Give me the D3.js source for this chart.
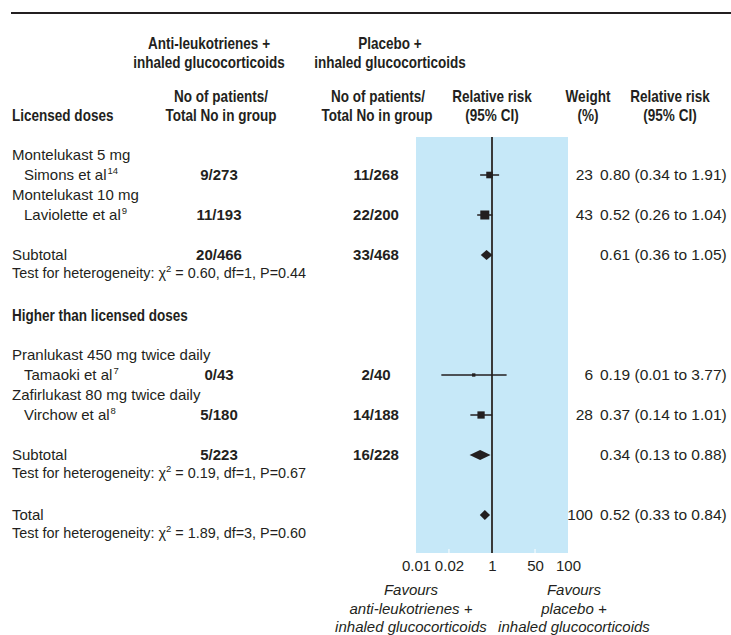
<!DOCTYPE html>
<html><head><meta charset="utf-8">
<script src="https://cdn.jsdelivr.net/npm/d3@7"></script>
<style>
body{margin:0;background:#fff;}
svg text{font-family:"Liberation Sans",Arial,sans-serif;fill:#231f20;font-size:15px;}
svg text.hdr{font-weight:bold;font-size:16.5px;}
svg text.num{font-weight:bold;font-size:15px;}
svg text.fav{font-style:italic;font-size:15px;}
svg text.het{font-size:14.4px;}
svg text.rr{font-size:15.5px;}
</style></head><body>
<svg id="c" width="731" height="635"></svg>
<script>
// ---- data ----
const drugNames = ["Montelukast 5 mg","Montelukast 10 mg","Pranlukast 450 mg twice daily","Zafirlukast 80 mg twice daily"];
const studyNames = ["Simons et al","Laviolette et al","Tamaoki et al","Virchow et al"];
const studyRefs = ["14","9","7","8"];
const treatCounts = ["9/273","11/193","0/43","5/180"];
const placeboCounts = ["11/268","22/200","2/40","14/188"];
const studyRR = [0.80,0.52,0.19,0.37];
const studyLow = [0.34,0.26,0.01,0.14];
const studyHigh = [1.91,1.04,3.77,1.01];
const studyWeight = [23,43,6,28];
const studyLine = [1,3,11,13];      // table line index of each study
const drugLine = [0,2,10,12];

const pooledNames = ["Subtotal","Subtotal","Total"];
const pooledTreat = ["20/466","5/223",""];
const pooledPlacebo = ["33/468","16/228",""];
const pooledRR = [0.61,0.34,0.52];
const pooledLow = [0.36,0.13,0.33];
const pooledHigh = [1.05,0.88,0.84];
const pooledWeight = ["","","100"];
const pooledLine = [5,15,18];
const hetChi = ["0.60","0.19","1.89"];
const hetDf = ["1","1","3"];
const hetP = ["0.44","0.67","0.60"];

const groupNames = ["Licensed doses","Higher than licensed doses"];
const groupLine = [-2,8];

const axisTickValues = [0.001,0.02,1,50,1000];
const axisTickLabels = ["0.01","0.02","1","50","100"];
const innerTicks = [0.02,50];

// ---- layout ----
const svg = d3.select("#c");
const x = d3.scaleLog().domain([0.001,1000]).range([416,568]);
const y = d3.scaleLinear().domain([0,19]).range([155,535]);
const sz = d3.scaleSqrt().domain([0,43]).range([0,9]);
const fmt = d3.format(".2f");
const panelTop = 137, panelBot = 553;
const colTreat = 219, colPlac = 376, colW = 593, colRR = 600;
const cond = 0.82; // condensed bold headers

svg.append("line").attr("x1",11).attr("x2",731).attr("y1",13).attr("y2",13)
  .attr("stroke","#231f20").attr("stroke-width",2);

function hdr(t,cx,cy,anchor){
  svg.append("text").attr("class","hdr")
    .attr("transform",`translate(${cx},${cy}) scale(${cond},1)`)
    .attr("text-anchor",anchor||"middle").text(t);
}
// headers
const H = [
  ["Anti-leukotrienes +",209,49],["inhaled glucocorticoids",209,68],
  ["Placebo +",390,49],["inhaled glucocorticoids",390,68],
  ["No of patients/",221,102],["Total No in group",221,121],
  ["No of patients/",378,102],["Total No in group",377,121],
  ["Relative risk",492,102],["(95% CI)",492,121],
  ["Weight",588,102],["(%)",588,121],
  ["Relative risk",670,102],["(95% CI)",670,121]
];
H.forEach(d=>hdr(d[0],d[1],d[2]));

// panel
svg.append("rect").attr("x",x.range()[0]).attr("y",panelTop)
  .attr("width",x.range()[1]-x.range()[0]).attr("height",panelBot-panelTop).attr("fill","#c6e8f8");
svg.selectAll("line.it").data(innerTicks).enter().append("line")
  .attr("x1",d=>x(d)).attr("x2",d=>x(d)).attr("y1",panelBot-4).attr("y2",panelBot)
  .attr("stroke","#fff").attr("stroke-width",1);

const ax = svg.append("g").attr("transform",`translate(0,${panelBot})`)
  .call(d3.axisBottom(x).tickValues(axisTickValues).tickFormat((d,i)=>axisTickLabels[i]).tickSize(0).tickPadding(7));
ax.select(".domain").remove();
ax.selectAll("text").attr("fill","#231f20").attr("font-size",15).attr("font-family","Liberation Sans, Arial, sans-serif");

svg.append("line").attr("x1",x(1)).attr("x2",x(1)).attr("y1",panelTop).attr("y2",panelBot)
  .attr("stroke","#3a3a3a").attr("stroke-width",2);

// group labels
groupNames.forEach((g,i)=>hdr(g,12,(groupLine[i]<0?121:y(groupLine[i])+6),"start"));

// drug labels
drugNames.forEach((d,i)=>{
  svg.append("text").attr("x",12).attr("y",y(drugLine[i])+5).text(d);
});

// studies
studyNames.forEach((s,i)=>{
  const yy = y(studyLine[i]);
  const t = svg.append("text").attr("x",24).attr("y",yy+5).text(s);
  t.append("tspan").attr("dx",1).attr("dy",-6).attr("font-size",9.5).text(studyRefs[i]);
  svg.append("text").attr("class","num").attr("x",colTreat).attr("y",yy+5).attr("text-anchor","middle").text(treatCounts[i]);
  svg.append("text").attr("class","num").attr("x",colPlac).attr("y",yy+5).attr("text-anchor","middle").text(placeboCounts[i]);
  svg.append("text").attr("class","rr").attr("x",colW).attr("y",yy+5).attr("text-anchor","end").text(studyWeight[i]);
  svg.append("text").attr("class","rr").attr("x",colRR).attr("y",yy+5).text(`${fmt(studyRR[i])} (${fmt(studyLow[i])} to ${fmt(studyHigh[i])})`);
  svg.append("line").attr("x1",x(studyLow[i])).attr("x2",x(studyHigh[i])).attr("y1",yy).attr("y2",yy)
    .attr("stroke","#231f20").attr("stroke-width",1.5);
  const s2 = sz(studyWeight[i]);
  svg.append("rect").attr("x",x(studyRR[i])-s2/2).attr("y",yy-s2/2).attr("width",s2).attr("height",s2).attr("fill","#231f20");
});

// pooled
pooledNames.forEach((p,i)=>{
  const yy = y(pooledLine[i]);
  svg.append("text").attr("x",12).attr("y",yy+5).text(p);
  if(pooledTreat[i]) svg.append("text").attr("class","num").attr("x",colTreat).attr("y",yy+5).attr("text-anchor","middle").text(pooledTreat[i]);
  if(pooledPlacebo[i]) svg.append("text").attr("class","num").attr("x",colPlac).attr("y",yy+5).attr("text-anchor","middle").text(pooledPlacebo[i]);
  if(pooledWeight[i]) svg.append("text").attr("class","rr").attr("x",colW).attr("y",yy+5).attr("text-anchor","end").text(pooledWeight[i]);
  svg.append("text").attr("class","rr").attr("x",colRR).attr("y",yy+5).text(`${fmt(pooledRR[i])} (${fmt(pooledLow[i])} to ${fmt(pooledHigh[i])})`);
  const pts = [[x(pooledLow[i]),yy],[x(pooledRR[i]),yy-5],[x(pooledHigh[i]),yy],[x(pooledRR[i]),yy+5]];
  svg.append("path").attr("d","M"+pts.join("L")+"Z").attr("fill","#231f20");
  // heterogeneity line
  const h = svg.append("text").attr("class","het").attr("x",12).attr("y",yy+5+y(1)-y(0)-2);
  h.append("tspan").text("Test for heterogeneity: ");
  h.append("tspan").text("χ");
  h.append("tspan").attr("dy",-6).attr("font-size",9.5).text("2");
  h.append("tspan").attr("dy",6).text(` = ${hetChi[i]}, df=${hetDf[i]}, P=${hetP[i]}`);
});

// favours labels
const favLeft = ["Favours","anti-leukotrienes +","inhaled glucocorticoids"];
const favRight = ["Favours","placebo +","inhaled glucocorticoids"];
const favY = [595,614,632];
favLeft.forEach((t,i)=>svg.append("text").attr("class","fav").attr("x",411).attr("y",favY[i]).attr("text-anchor","middle").text(t));
favRight.forEach((t,i)=>svg.append("text").attr("class","fav").attr("x",574).attr("y",favY[i]).attr("text-anchor","middle").text(t));
</script>
</body></html>
